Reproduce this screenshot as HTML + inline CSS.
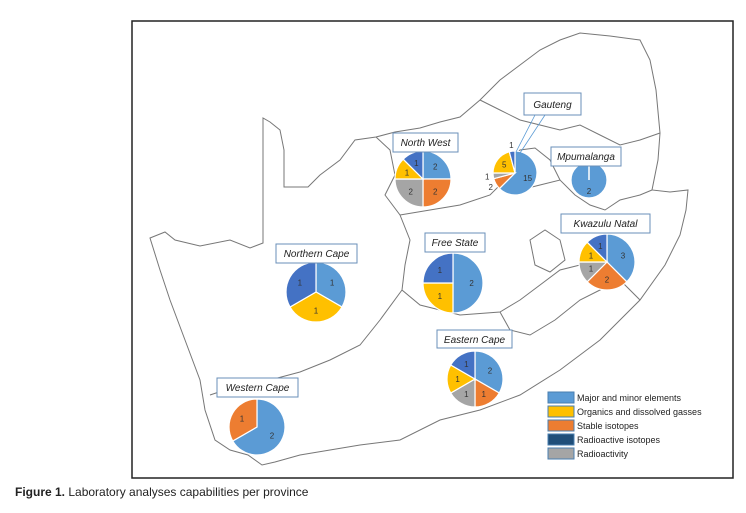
<!DOCTYPE html>
<html><head><meta charset="utf-8"><style>
body{margin:0;background:#fff;width:746px;height:508px;overflow:hidden;font-family:"Liberation Sans",sans-serif}
</style></head><body>
<svg width="746" height="508" xmlns="http://www.w3.org/2000/svg">
<rect x="132" y="21" width="601" height="457" fill="#fff" stroke="#222" stroke-width="1.5"/>
<g fill="none" stroke="#777" stroke-width="1">
<path d="M150,238 L165,232 L175,240 L200,246 L230,240 L250,248 L263,243 L263,118 L270,122 L280,130 L284,150 L284,187 L308,187 L320,175 L340,160 L355,140 L376,137 L395,132 L420,128 L440,122 L460,117 L480,100 L500,80 L520,65 L540,50 L560,40 L580,33 L610,36 L640,40 L650,60 L656,90 L660,133 L658,160 L652,190 L670,192 L688,190 L686,210 L680,235 L665,265 L640,300 L600,340 L560,370 L520,395 L480,410 L440,420 L400,440 L360,445 L330,450 L300,455 L275,462 L262,465 L248,455 L230,450 L215,440 L205,410 L200,380 L185,340 L170,300 L160,270 L150,238 Z"/>
<path d="M376,137 L390,150 L395,175 L385,195 L400,215 L410,240 L405,265 L402,290 L420,305 L440,310 L460,315 L500,312 L520,300 L540,285 L560,270 L580,265"/>
<path d="M400,215 L430,210 L460,205 L490,195 L500,185 L520,190 L540,185 L560,180 L575,195 L590,205 L605,210 L620,200 L640,195 L652,190"/>
<path d="M500,185 L505,165 L520,150 L535,148 L550,160 L560,180"/>
<path d="M480,100 L500,110 L520,120 L540,125 L560,130 L580,125 L600,135 L620,145 L640,140 L660,133"/>
<path d="M402,290 L380,320 L360,345 L330,360 L300,372 L270,380 L245,385 L225,390 L210,395"/>
<path d="M500,312 L510,330 L530,335 L555,320 L580,300 L600,290 L620,280 L640,300"/>
<path d="M530,240 L545,230 L560,240 L565,260 L550,272 L535,265 Z"/>
</g>
<g id="pies"></g>
<g font-family="Liberation Sans,sans-serif" font-style="italic" font-size="10" fill="#222" text-anchor="middle">
<path d="M535,115 L516,152 M545,115 L520,153" stroke="#5b9bd5" stroke-width="0.8" fill="none"/>
<rect x="393" y="133" width="65" height="19" fill="#fff" stroke="#6a8fb8"/><text x="425.5" y="146">North West</text>
<rect x="524" y="93" width="57" height="22" fill="#fff" stroke="#6a8fb8"/><text x="552.5" y="108">Gauteng</text>
<rect x="551" y="147" width="70" height="19" fill="#fff" stroke="#6a8fb8"/><text x="586" y="160">Mpumalanga</text>
<rect x="561" y="214" width="89" height="19" fill="#fff" stroke="#6a8fb8"/><text x="605.5" y="227">Kwazulu Natal</text>
<rect x="425" y="233" width="60" height="19" fill="#fff" stroke="#6a8fb8"/><text x="455" y="246">Free State</text>
<rect x="276" y="244" width="81" height="19" fill="#fff" stroke="#6a8fb8"/><text x="316.5" y="257">Northern Cape</text>
<rect x="437" y="330" width="75" height="18" fill="#fff" stroke="#6a8fb8"/><text x="474.5" y="343">Eastern Cape</text>
<rect x="217" y="378" width="81" height="19" fill="#fff" stroke="#6a8fb8"/><text x="257.5" y="391">Western Cape</text>
</g>
<g font-size="9" fill="#222">
<rect x="548" y="392" width="26" height="11" fill="#5b9bd5" stroke="#4a7fb0"/><text x="577" y="401">Major and minor elements</text>
<rect x="548" y="406" width="26" height="11" fill="#ffc000" stroke="#4a7fb0"/><text x="577" y="415">Organics and dissolved gasses</text>
<rect x="548" y="420" width="26" height="11" fill="#ed7d31" stroke="#4a7fb0"/><text x="577" y="429">Stable isotopes</text>
<rect x="548" y="434" width="26" height="11" fill="#1f4e79" stroke="#4a7fb0"/><text x="577" y="443">Radioactive isotopes</text>
<rect x="548" y="448" width="26" height="11" fill="#a5a5a5" stroke="#4a7fb0"/><text x="577" y="457">Radioactivity</text>
</g>
<text x="15" y="496" font-size="12" fill="#222"><tspan font-weight="bold">Figure 1.</tspan> Laboratory analyses capabilities per province</text>
</svg>
<script>
// slice order clockwise from top: major, stable, radioactivity, organics, radioactive isotopes
const categories=["Major and minor elements","Stable isotopes","Radioactivity","Organics and dissolved gasses","Radioactive isotopes"];
const provinces=["North West","Gauteng","Mpumalanga","Kwazulu Natal","Free State","Northern Cape","Eastern Cape","Western Cape"];
const northWest=[2,2,2,1,1];
const gauteng=[15,2,1,5,1];
const mpumalanga=[2,0,0,0,0];
const kwazuluNatal=[3,2,1,1,1];
const freeState=[2,0,0,1,1];
const northernCape=[1,0,0,1,1];
const easternCape=[2,1,1,1,1];
const westernCape=[2,1,0,0,0];
const values=[northWest,gauteng,mpumalanga,kwazuluNatal,freeState,northernCape,easternCape,westernCape];
const colors=["#5b9bd5","#ed7d31","#a5a5a5","#ffc000","#4472c4"];
const layout=[[423,179,28],[515,173,22],[589,180,18],[607,262,28],[453,283,30],[316,292,30],[475,379,28],[257,427,28]];
const NS="http://www.w3.org/2000/svg";
const g=document.getElementById('pies');
values.forEach((vals,pi)=>{
  const [cx,cy,r]=layout[pi];
  const total=vals.reduce((a,b)=>a+b,0);
  let a0=0;
  const pg=document.createElementNS(NS,'g');
  
  
  g.appendChild(pg);
  const pt=(a,rr)=>[cx+rr*Math.sin(a),cy-rr*Math.cos(a)];
  vals.forEach((v,i)=>{
    if(!v)return;
    const a1=a0+v/total*2*Math.PI;
    let el;
    if(v===total){
      el=document.createElementNS(NS,'circle');
      el.setAttribute('cx',cx);el.setAttribute('cy',cy);el.setAttribute('r',r);
    }else{
      el=document.createElementNS(NS,'path');
      const [x0,y0]=pt(a0,r),[x1,y1]=pt(a1,r);
      el.setAttribute('d',`M${cx},${cy}L${x0},${y0}A${r},${r} 0 ${a1-a0>Math.PI?1:0} 1 ${x1},${y1}Z`);
    }
    el.setAttribute('fill',colors[i]);
    el.setAttribute('stroke','#fff');
    el.setAttribute('stroke-width','1.2');
    
    
    pg.appendChild(el);
    if(v===total){
      const ln=document.createElementNS(NS,'line');
      ln.setAttribute('x1',cx);ln.setAttribute('y1',cy);ln.setAttribute('x2',cx);ln.setAttribute('y2',cy-r);
      ln.setAttribute('stroke','#fff');ln.setAttribute('stroke-width','1.5');
      pg.appendChild(ln);
    }
    const mid=(a0+a1)/2;
    const small=v/total<0.1;
    const [tx,ty]=pt(mid,small?r+6:r*0.62);
    const t=document.createElementNS(NS,'text');
    t.setAttribute('x',tx);t.setAttribute('y',ty+3);
    t.setAttribute('text-anchor','middle');
    t.setAttribute('font-size','8');
    t.setAttribute('fill','#333');
    
    
    t.textContent=v;
    pg.appendChild(t);
    a0=a1;
  });
});
</script>
</body></html>
